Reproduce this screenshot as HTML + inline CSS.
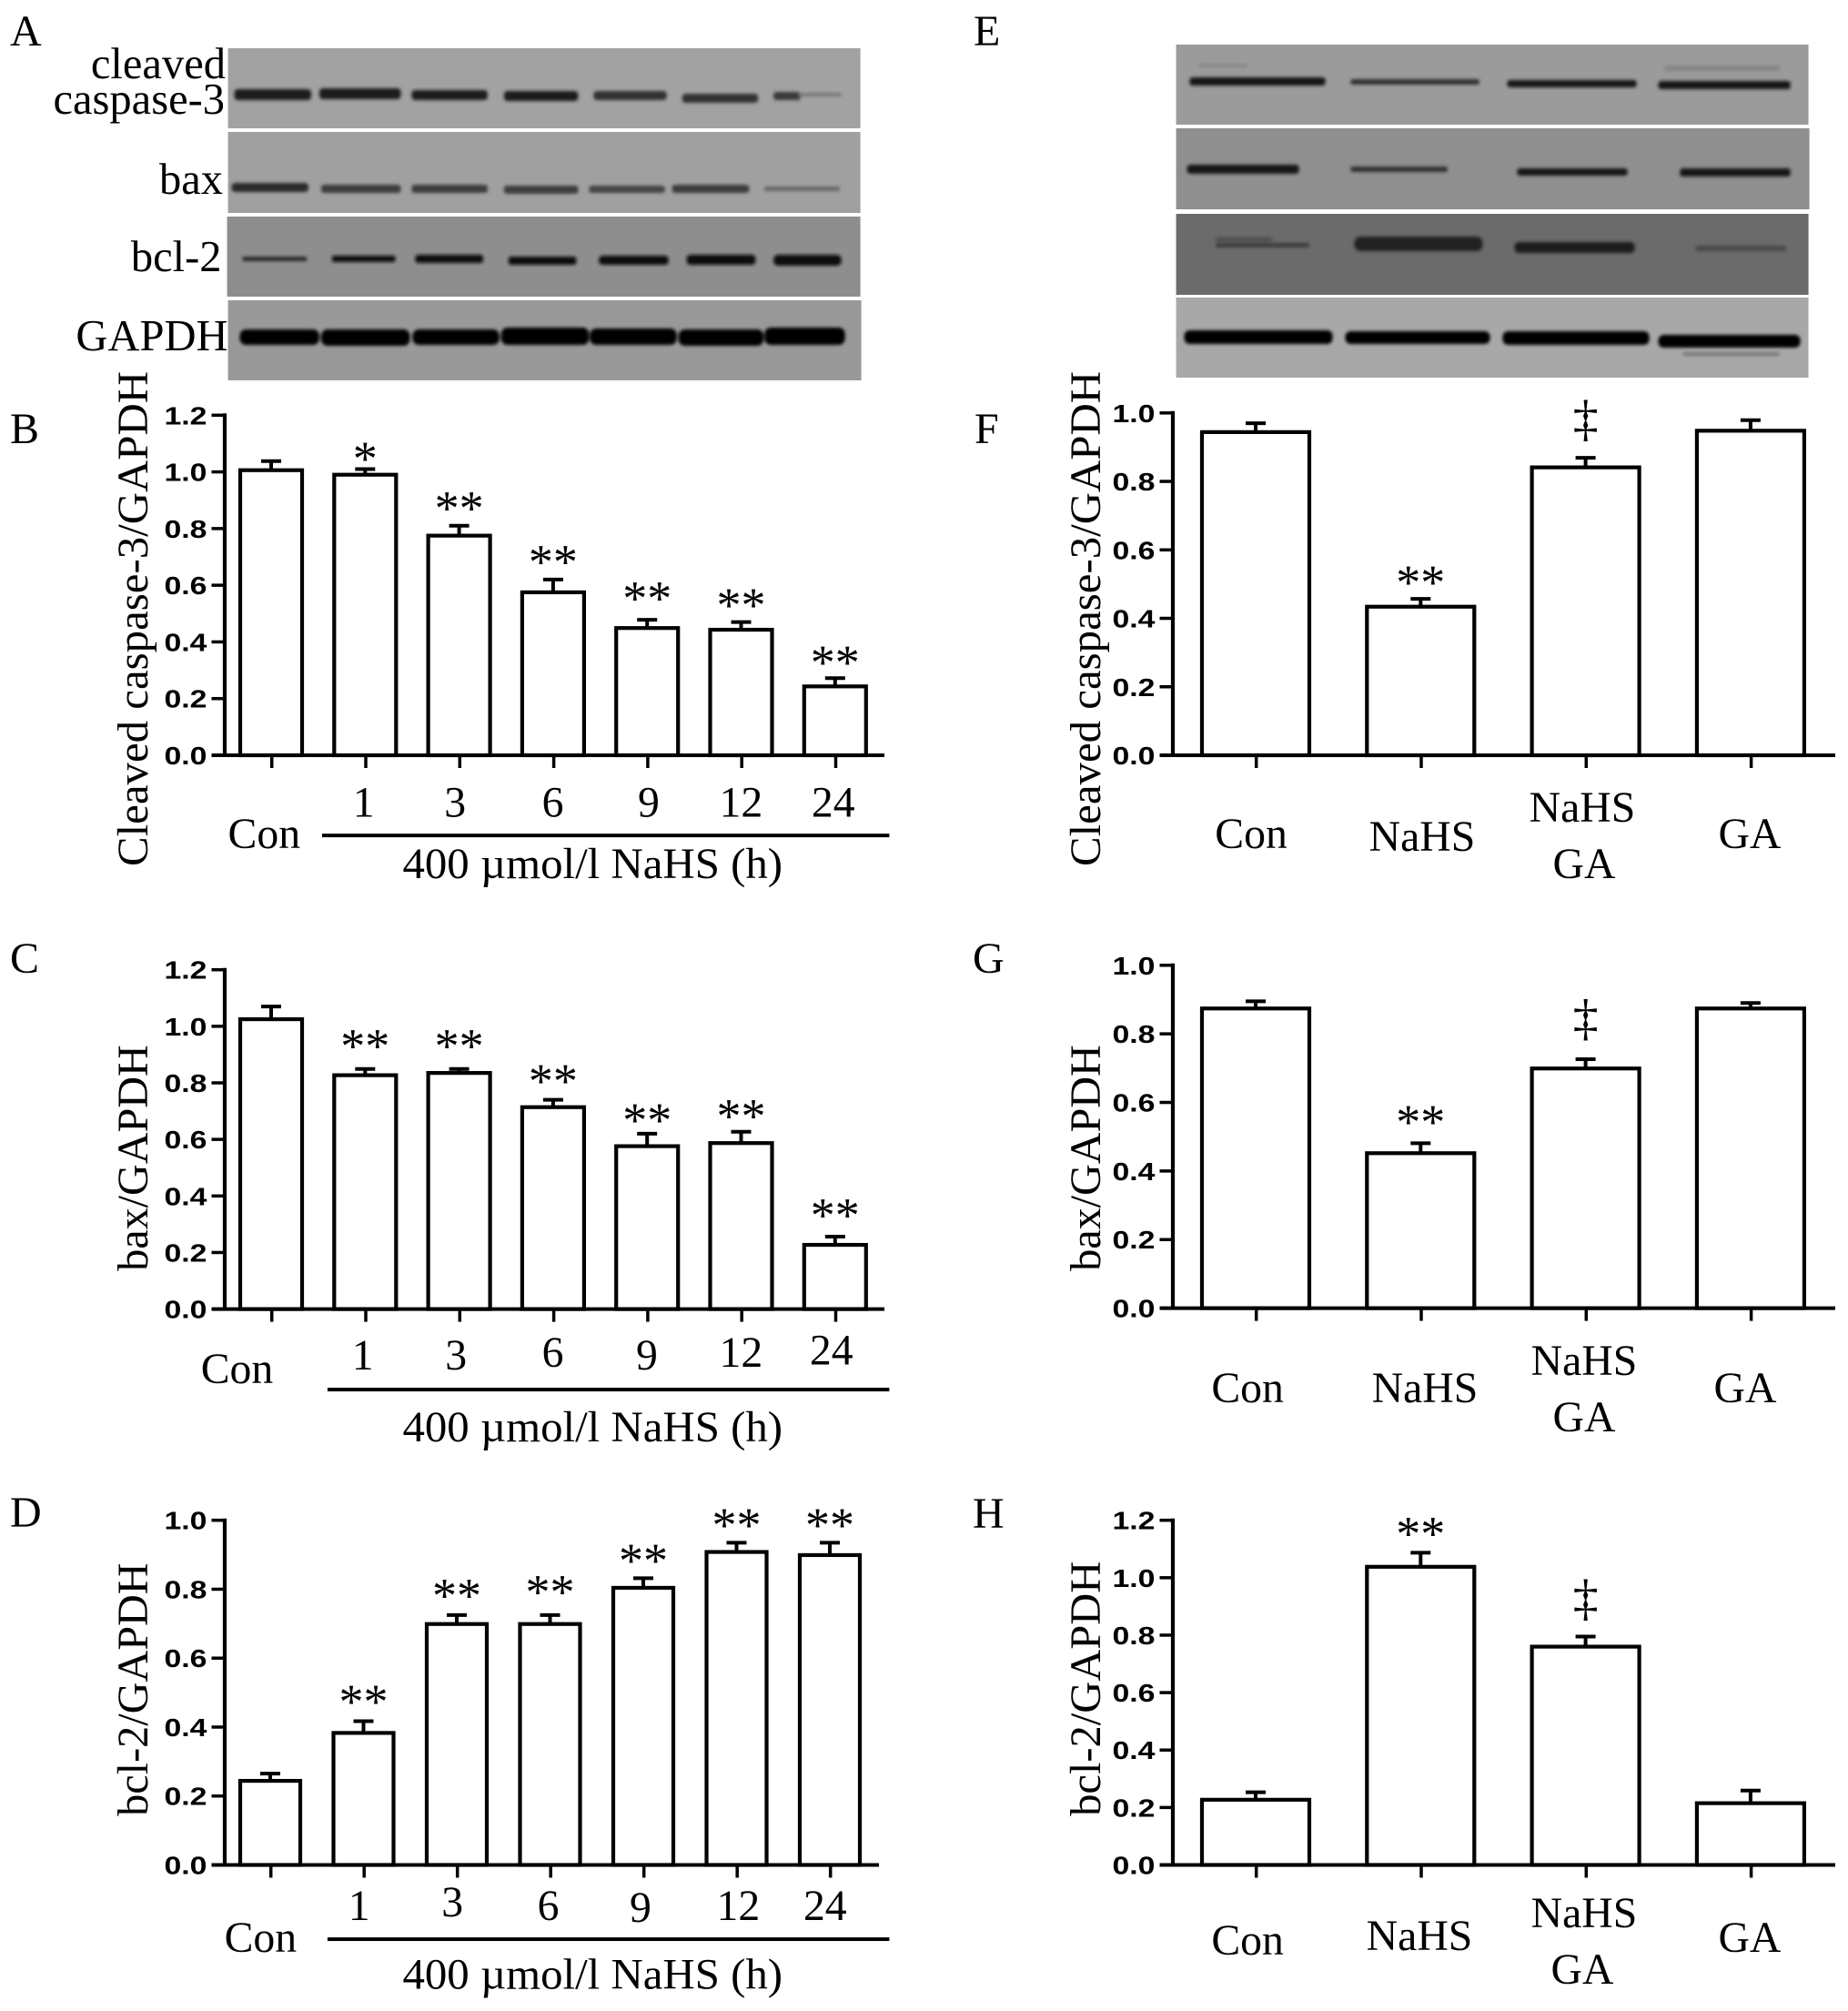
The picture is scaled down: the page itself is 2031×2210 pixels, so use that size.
<!DOCTYPE html>
<html lang="en">
<head>
<meta charset="utf-8">
<title>Western blots and densitometry bar charts</title>
<style>
html,body{margin:0;padding:0;background:#fff}
svg{display:block}
text{font-family:"Liberation Serif",serif;font-size:48px;fill:#000}
.tick{font-family:"Liberation Sans",sans-serif;font-weight:bold;font-size:28px}
.mid{text-anchor:middle}
.end{text-anchor:end}
.lab{font-size:48.5px;text-anchor:end}
</style>
</head>
<body>
<svg id="figure" xmlns="http://www.w3.org/2000/svg" width="2031" height="2210" viewBox="0 0 2031 2210">
<defs>
<filter id="soft" x="-5%" y="-200%" width="110%" height="500%"><feMorphology operator="dilate" radius="1 0.8"/><feGaussianBlur stdDeviation="1.8"/></filter>
</defs>
<rect width="2031" height="2210" fill="#fff"/>

<g>
<text x="11" y="50">A</text>
<text x="11" y="487">B</text>
<text x="11" y="1069">C</text>
<text x="11" y="1678">D</text>
<text x="1070" y="50">E</text>
<text x="1071" y="487">F</text>
<text x="1069" y="1069">G</text>
<text x="1069" y="1679">H</text>
</g>

<g transform="scale(.9943 1)">
<rect x="252" y="53" width="699" height="88" fill="#a2a2a2"/>
<rect x="252" y="145" width="699" height="89" fill="#a0a0a0"/>
<rect x="251" y="238" width="700" height="88" fill="#8e8e8e"/>
<rect x="252" y="330" width="700" height="88" fill="#999"/>
<g fill="#1c1c1c" filter="url(#soft)">
<rect x="260" y="99" width="83" height="10" rx="4"/>
<rect x="354" y="98" width="88" height="10" rx="4"/>
<rect x="456" y="100" width="82" height="9" rx="4"/>
<rect x="558" y="101" width="80" height="9" rx="4"/>
<rect x="657" y="101" width="79" height="8" rx="4" fill="#333"/>
<rect x="755" y="104" width="82" height="8" rx="4" fill="#333"/>
<rect x="856" y="102" width="28" height="7" rx="3" fill="#3a3a3a"/>
<rect x="884" y="103" width="45" height="2" rx="1" fill="#777"/>
</g>
<g fill="#2c2c2c" filter="url(#soft)">
<rect x="257" y="202" width="83" height="8" rx="4"/>
<rect x="356" y="204" width="86" height="7" rx="3" fill="#3c3c3c"/>
<rect x="456" y="204" width="82" height="7" rx="3" fill="#3c3c3c"/>
<rect x="558" y="205" width="80" height="7" rx="3" fill="#3c3c3c"/>
<rect x="652" y="205" width="82" height="6" rx="3" fill="#444"/>
<rect x="744" y="204" width="83" height="7" rx="3" fill="#3c3c3c"/>
<rect x="846" y="206" width="81" height="3" rx="1" fill="#666"/>
</g>
<g fill="#0e0e0e" filter="url(#soft)">
<rect x="269" y="283" width="69" height="3" rx="1" fill="#2a2a2a"/>
<rect x="368" y="282" width="68" height="5" rx="2"/>
<rect x="460" y="281" width="73" height="7" rx="3"/>
<rect x="563" y="283" width="73" height="7" rx="3"/>
<rect x="663" y="282" width="75" height="8" rx="4"/>
<rect x="760" y="281" width="74" height="9" rx="4"/>
<rect x="856" y="281" width="73" height="10" rx="5"/>
</g>
<g fill="#060606" filter="url(#soft)">
<rect x="266" y="363" width="86" height="15" rx="7"/>
<rect x="356" y="363" width="96" height="16" rx="7"/>
<rect x="457" y="363" width="94" height="15" rx="7"/>
<rect x="555" y="361" width="95" height="17" rx="7"/>
<rect x="653" y="362" width="94" height="16" rx="7"/>
<rect x="751" y="363" width="92" height="16" rx="7"/>
<rect x="846" y="361" width="87" height="17" rx="7"/>
</g>
</g>
<g>
<text class="lab" x="248" y="86">cleaved</text>
<text class="lab" x="247" y="125">caspase-3</text>
<text class="lab" x="245" y="213">bax</text>
<text class="lab" x="243.5" y="298">bcl-2</text>
<text class="lab" x="250.5" y="385">GAPDH</text>
</g>

<g transform="translate(1040 0) scale(.9943 1) translate(-1040 0)">
<rect x="1294" y="49" width="699" height="88" fill="#9b9b9b"/>
<rect x="1294" y="141" width="700" height="89" fill="#8f8f8f"/>
<rect x="1294" y="235" width="699" height="89" fill="#6b6b6b"/>
<rect x="1294" y="327" width="699" height="88" fill="#a8a8a8"/>
<g fill="#141414" filter="url(#soft)">
<rect x="1320" y="71" width="52" height="2" fill="#888"/>
<rect x="1835" y="73" width="125" height="4" fill="#858585"/>
<rect x="1310" y="86" width="148" height="7" rx="3"/>
<rect x="1488" y="88" width="140" height="4" rx="2" fill="#333"/>
<rect x="1661" y="89" width="141" height="6" rx="3"/>
<rect x="1828" y="90" width="144" height="7" rx="3"/>
</g>
<g fill="#181818" filter="url(#soft)">
<rect x="1307" y="182" width="122" height="8" rx="4"/>
<rect x="1488" y="184" width="105" height="4" rx="2" fill="#333"/>
<rect x="1672" y="186" width="120" height="6" rx="3"/>
<rect x="1852" y="186" width="120" height="7" rx="3"/>
</g>
<g fill="#1c1c1c" filter="url(#soft)">
<rect x="1339" y="262" width="60" height="2" fill="#4a4a4a"/>
<rect x="1339" y="268" width="101" height="3" rx="1" fill="#3c3c3c"/>
<rect x="1492" y="261" width="140" height="14" rx="7" fill="#222"/>
<rect x="1669" y="267" width="131" height="10" rx="5"/>
<rect x="1869" y="271" width="98" height="4" rx="2" fill="#4a4a4a"/>
</g>
<g fill="#060606" filter="url(#soft)">
<rect x="1304" y="364" width="162" height="13" rx="6"/>
<rect x="1482" y="365" width="158" height="12" rx="6"/>
<rect x="1656" y="365" width="160" height="13" rx="6"/>
<rect x="1828" y="369" width="155" height="12" rx="6"/>
<rect x="1855" y="388" width="105" height="2" fill="#777"/>
</g>
</g>

<g>
<text transform="translate(162 952) rotate(-90)" textLength="544" lengthAdjust="spacingAndGlyphs">Cleaved caspase-3/GAPDH</text>
<text transform="translate(162 1396.8) rotate(-90)" textLength="248.6" lengthAdjust="spacingAndGlyphs">bax/GAPDH</text>
<text transform="translate(162 1995.8) rotate(-90)" textLength="278.4" lengthAdjust="spacingAndGlyphs">bcl-2/GAPDH</text>
<text transform="translate(1209 952) rotate(-90)" textLength="544" lengthAdjust="spacingAndGlyphs">Cleaved caspase-3/GAPDH</text>
<text transform="translate(1209 1396.8) rotate(-90)" textLength="248.6" lengthAdjust="spacingAndGlyphs">bax/GAPDH</text>
<text transform="translate(1209 1995.8) rotate(-90)" textLength="280" lengthAdjust="spacingAndGlyphs">bcl-2/GAPDH</text>
</g>

<g transform="translate(0 420) scale(.9943) translate(0 -420)">
<text class="mid" x="292" y="935">Con</text>
<text class="mid" x="402" y="900">1</text>
<text class="mid" x="503" y="900">3</text>
<text class="mid" x="611" y="900">6</text>
<text class="mid" x="717" y="900">9</text>
<text class="mid" x="819" y="900">12</text>
<text class="mid" x="921" y="900">24</text>
<rect x="356" y="919" width="627" height="4"/>
<text class="mid" x="655" y="968" textLength="420" lengthAdjust="spacingAndGlyphs">400 µmol/l NaHS (h)</text>
</g>
<g transform="translate(0 1020) scale(.9943) translate(0 -1020)">
<text class="mid" x="262" y="1523">Con</text>
<text class="mid" x="401" y="1508">1</text>
<text class="mid" x="504" y="1508">3</text>
<text class="mid" x="611" y="1505">6</text>
<text class="mid" x="715" y="1508">9</text>
<text class="mid" x="819" y="1505">12</text>
<text class="mid" x="919" y="1502">24</text>
<rect x="362" y="1528" width="621" height="4"/>
<text class="mid" x="655" y="1587" textLength="420" lengthAdjust="spacingAndGlyphs">400 µmol/l NaHS (h)</text>
</g>
<g transform="translate(0 1620) scale(.9943) translate(0 -1620)">
<text class="mid" x="288" y="2148">Con</text>
<text class="mid" x="397" y="2113">1</text>
<text class="mid" x="500" y="2109">3</text>
<text class="mid" x="606" y="2113">6</text>
<text class="mid" x="708" y="2115">9</text>
<text class="mid" x="816" y="2113">12</text>
<text class="mid" x="912" y="2113">24</text>
<rect x="362" y="2132" width="621" height="4"/>
<text class="mid" x="655" y="2189" textLength="420" lengthAdjust="spacingAndGlyphs">400 µmol/l NaHS (h)</text>
</g>
<g transform="translate(1040 420) scale(.9943) translate(-1040 -420)">
<text class="mid" x="1377" y="935">Con</text>
<text class="mid" x="1566" y="938">NaHS</text>
<text class="mid" x="1743" y="906">NaHS</text>
<text class="mid" x="1745" y="968">GA</text>
<text class="mid" x="1928" y="935">GA</text>
</g>
<g transform="translate(1040 1020) scale(.9943) translate(-1040 -1020)">
<text class="mid" x="1373" y="1544">Con</text>
<text class="mid" x="1569" y="1544">NaHS</text>
<text class="mid" x="1745" y="1514">NaHS</text>
<text class="mid" x="1745" y="1576">GA</text>
<text class="mid" x="1923" y="1544">GA</text>
</g>
<g transform="translate(1040 1620) scale(.9943) translate(-1040 -1620)">
<text class="mid" x="1373" y="2151">Con</text>
<text class="mid" x="1563" y="2146">NaHS</text>
<text class="mid" x="1745" y="2121">NaHS</text>
<text class="mid" x="1743" y="2183">GA</text>
<text class="mid" x="1928" y="2148">GA</text>
</g>
</svg>

<script>
/* Values */
const timeCategories = ['Con', '1', '3', '6', '9', '12', '24'];
const groupCategories = ['Con', 'NaHS', 'NaHS GA', 'GA'];

const ticksTo12 = [0, 0.2, 0.4, 0.6, 0.8, 1.0, 1.2];
const ticksTo10 = [0, 0.2, 0.4, 0.6, 0.8, 1.0];

const bValues = [1.006, 0.990, 0.775, 0.575, 0.449, 0.443, 0.243];
const bErrorTops = [1.038, 1.010, 0.810, 0.620, 0.478, 0.470, 0.272];
const bMarkers = ['', '*', '**', '**', '**', '**', '**'];
const bMarkerGaps = [0, 0.060, 0.086, 0.086, 0.100, 0.083, 0.080];

const cValues = [1.025, 0.827, 0.835, 0.714, 0.576, 0.587, 0.227];
const cErrorTops = [1.070, 0.849, 0.849, 0.740, 0.620, 0.627, 0.256];
const cMarkers = ['', '**', '**', '**', '**', '**', '**'];
const cMarkerGaps = [0, 0.105, 0.105, 0.090, 0.072, 0.080, 0.100];

const dValues = [0.244, 0.383, 0.699, 0.699, 0.804, 0.908, 0.899];
const dErrorTops = [0.265, 0.417, 0.725, 0.725, 0.832, 0.935, 0.935];
const dMarkers = ['', '**', '**', '**', '**', '**', '**'];
const dMarkerGaps = [0, 0.076, 0.076, 0.087, 0.071, 0.070, 0.070];

const fValues = [0.944, 0.434, 0.841, 0.948];
const fErrorTops = [0.970, 0.457, 0.869, 0.979];
const fMarkers = ['', '**', '‡', ''];
const fMarkerGaps = [0, 0.068, 0.104, 0];

const gValues = [0.874, 0.452, 0.699, 0.874];
const gErrorTops = [0.895, 0.481, 0.726, 0.890];
const gMarkers = ['', '**', '‡', ''];
const gMarkerGaps = [0, 0.082, 0.110, 0];

const hValues = [0.227, 1.038, 0.760, 0.215];
const hErrorTops = [0.253, 1.087, 0.795, 0.259];
const hMarkers = ['', '**', '‡', ''];
const hMarkerGaps = [0, 0.090, 0.122, 0];

const SVG_NS = 'http://www.w3.org/2000/svg';
const figure = document.getElementById('figure');

function make(parent, tag, attrs, content) {
  const node = document.createElementNS(SVG_NS, tag);
  for (const key in attrs) node.setAttribute(key, attrs[key]);
  if (content !== undefined) node.textContent = content;
  parent.appendChild(node);
  return node;
}

function drawChart(id, frame, categories, ticks, values, errorTops, markers, markerGaps) {
  const maxTick = ticks[ticks.length - 1];
  const yScale = v => frame.y0 - v * (frame.y0 - frame.yTop) / maxTick;
  const xScale = i => frame.first + i * frame.step;

  const chart = make(figure, 'g', {});
  
  

  categories.forEach((category, i) => {
    const cx = xScale(i);
    const top = yScale(values[i]);
    const errTop = yScale(errorTops[i]);

    const stem = make(chart, 'line', {x1: cx, x2: cx, y1: top, y2: errTop, stroke: '#000', 'stroke-width': 4});
    
    

    const cap = make(chart, 'line', {x1: cx - 11, x2: cx + 11, y1: errTop, y2: errTop, stroke: '#000', 'stroke-width': 4});
    
    

    const bar = make(chart, 'rect', {x: cx - frame.barWidth / 2, y: top, width: frame.barWidth, height: frame.y0 - top, fill: '#fff', stroke: '#000', 'stroke-width': 4.2});
    
    

    const tick = make(chart, 'line', {x1: cx + 0.7, x2: cx + 0.7, y1: frame.y0, y2: frame.y0 + 14, stroke: '#000', 'stroke-width': 3.5});
    
    

    if (markers[i]) {
      const isDagger = markers[i] === '‡';
      const fontSize = isDagger ? 56 : 54;
      const centre = yScale(errorTops[i] + markerGaps[i]);
      const baseline = centre + (isDagger ? 14.5 : 25.4);
      const mark = make(chart, 'text', {x: cx, y: baseline, 'text-anchor': 'middle', style: 'font-size:' + fontSize + 'px'}, markers[i]);
      
      
    }
  });

  const yAxis = make(chart, 'line', {x1: frame.axisX, x2: frame.axisX, y1: frame.y0, y2: yScale(maxTick) - 2, stroke: '#000', 'stroke-width': 4.2});
  
  

  const xAxis = make(chart, 'line', {x1: frame.axisX - 14.5, x2: frame.axisEnd, y1: frame.y0, y2: frame.y0, stroke: '#000', 'stroke-width': 4});
  
  

  ticks.forEach(value => {
    const y = yScale(value);
    const tick = make(chart, 'line', {x1: frame.axisX - 14.5, x2: frame.axisX, y1: y, y2: y, stroke: '#000', 'stroke-width': 3.5});
    
    

    const label = make(chart, 'text', {'class': 'tick', x: frame.axisX - 66.5, y: y + 10, textLength: 47, lengthAdjust: 'spacingAndGlyphs'}, value.toFixed(1));
    
    
  });
}

const frameB = {axisX: 247, axisEnd: 972, y0: 830, yTop: 456.3, first: 298, step: 103.3, barWidth: 68};
const frameC = {axisX: 247, axisEnd: 972, y0: 1438.6, yTop: 1065.7, first: 298, step: 103.3, barWidth: 68};
const frameD = {axisX: 247, axisEnd: 966, y0: 2049.5, yTop: 1670.7, first: 297, step: 102.5, barWidth: 66};
const frameF = {axisX: 1289, axisEnd: 2017, y0: 830, yTop: 453.8, first: 1380, step: 181.3, barWidth: 118};
const frameG = {axisX: 1289, axisEnd: 2017, y0: 1437.6, yTop: 1060.8, first: 1380, step: 181.3, barWidth: 118};
const frameH = {axisX: 1289, axisEnd: 2017, y0: 2049.5, yTop: 1670.7, first: 1380, step: 181.3, barWidth: 118};

drawChart('b', frameB, timeCategories, ticksTo12, bValues, bErrorTops, bMarkers, bMarkerGaps);
drawChart('c', frameC, timeCategories, ticksTo12, cValues, cErrorTops, cMarkers, cMarkerGaps);
drawChart('d', frameD, timeCategories, ticksTo10, dValues, dErrorTops, dMarkers, dMarkerGaps);
drawChart('f', frameF, groupCategories, ticksTo10, fValues, fErrorTops, fMarkers, fMarkerGaps);
drawChart('g', frameG, groupCategories, ticksTo10, gValues, gErrorTops, gMarkers, gMarkerGaps);
drawChart('h', frameH, groupCategories, ticksTo12, hValues, hErrorTops, hMarkers, hMarkerGaps);
</script>
</body>
</html>
